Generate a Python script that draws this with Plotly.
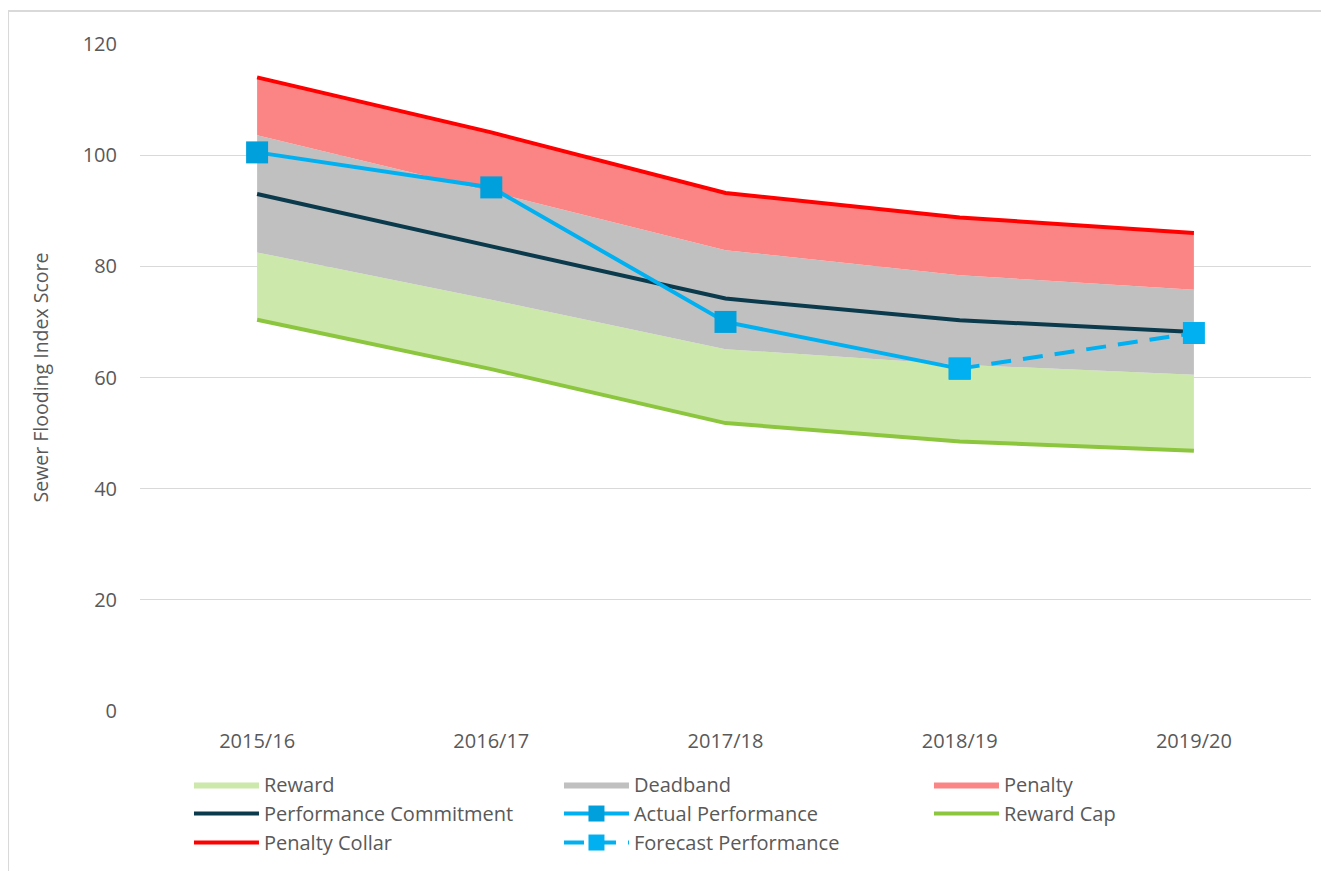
import plotly.graph_objects as go

years = ["2015/16", "2016/17", "2017/18", "2018/19", "2019/20"]
reward_cap = [70.4, 61.5, 51.8, 48.5, 46.8]
reward_upper = [82.5, 74.0, 65.1, 62.3, 60.5]
penalty_lower = [103.6, 93.4, 82.9, 78.4, 75.8]
penalty_collar = [114.0, 104.1, 93.2, 88.8, 86.0]
commitment = [93.0, 83.6, 74.2, 70.3, 68.2]
actual = [100.5, 94.2, 70.0, 61.6, None]
forecast = [None, None, None, 61.6, 68.0]
y_ticks = [0, 20, 40, 60, 80, 100, 120]

FONT = "Open Sans"
TXT = "#595959"

fig = go.Figure()

# invisible base for stacked bands
fig.add_trace(go.Scatter(x=years, y=reward_cap, mode="lines", line=dict(width=0, color="rgba(0,0,0,0)"),
                         showlegend=False, hoverinfo="skip"))
fig.add_trace(go.Scatter(x=years, y=reward_upper, mode="lines", name="Reward", fill="tonexty",
                         fillcolor="#cce8aa", line=dict(width=0, color="#cce8aa")))
fig.add_trace(go.Scatter(x=years, y=penalty_lower, mode="lines", name="Deadband", fill="tonexty",
                         fillcolor="#c0c0c0", line=dict(width=0, color="#c0c0c0")))
fig.add_trace(go.Scatter(x=years, y=penalty_collar, mode="lines", name="Penalty", fill="tonexty",
                         fillcolor="#fb8585", line=dict(width=0, color="#fb8585")))

fig.add_trace(go.Scatter(x=years, y=commitment, mode="lines", name="Performance Commitment",
                         line=dict(width=4, color="#0b3a4c")))
fig.add_trace(go.Scatter(x=years, y=actual, mode="lines+markers", name="Actual Performance",
                         line=dict(width=4, color="#00b0f0"),
                         marker=dict(symbol="square", size=22, color="#00a0dc")))
fig.add_trace(go.Scatter(x=years, y=reward_cap, mode="lines", name="Reward Cap",
                         line=dict(width=4, color="#8cc63f")))
fig.add_trace(go.Scatter(x=years, y=penalty_collar, mode="lines", name="Penalty Collar",
                         line=dict(width=4, color="#ff0000")))
fig.add_trace(go.Scatter(x=years, y=forecast, mode="lines+markers", name="Forecast Performance",
                         line=dict(width=4, color="#00b0f0", dash="20px,12px"),
                         marker=dict(symbol="square", size=22, color="#00b0f0")))

fig.update_layout(
    width=1321, height=863,
    margin=dict(l=132, r=18, t=36, b=160, autoexpand=False),
    paper_bgcolor="white", plot_bgcolor="white",
    font=dict(family=FONT, size=20, color=TXT),
    showlegend=True,
    legend=dict(orientation="h", x=0.137, xref="container", xanchor="left",
                y=0.1228, yref="container", yanchor="top",
                entrywidth=290, entrywidthmode="pixels", itemwidth=65,
                font=dict(family=FONT, size=20, color=TXT), tracegroupgap=0,
                traceorder="normal", bgcolor="rgba(0,0,0,0)"),
    xaxis=dict(type="category", range=[-0.5, 4.5], showgrid=False, showline=False,
               ticks="", ticklabelstandoff=16, tickfont=dict(size=20, color=TXT), zeroline=False),
    yaxis=dict(range=[0, 120], tickvals=y_ticks, showgrid=True, gridcolor="#d9d9d9", gridwidth=1,
               zeroline=False, showline=False, ticks="", ticklabelstandoff=22,
               tickfont=dict(size=20, color=TXT),
               title=dict(text="Sewer Flooding Index Score", font=dict(size=19.5, color=TXT), standoff=28)),
    shapes=[dict(type="rect", xref="paper", yref="paper", x0=-0.1127, x1=1.03, y0=-0.26, y1=1.0495,
                 line=dict(color="#d9d9d9", width=2), fillcolor="rgba(0,0,0,0)", layer="below")],
)

fig.write_html("out.html")
